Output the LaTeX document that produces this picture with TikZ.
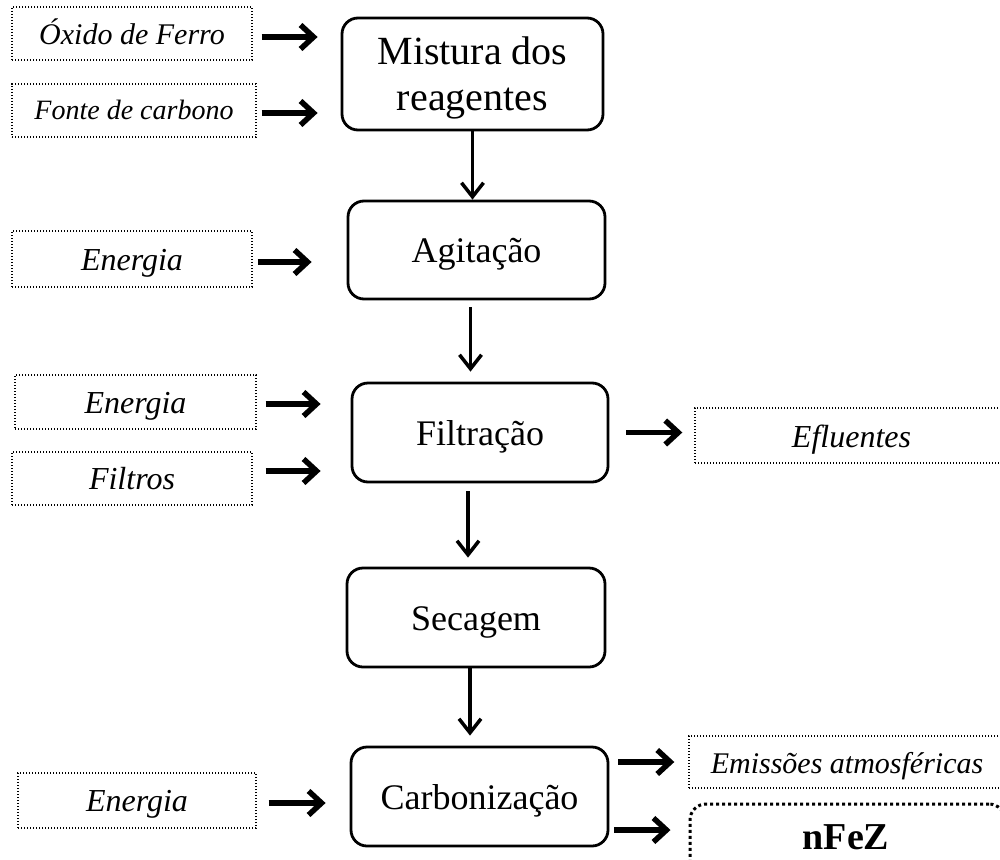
\documentclass[tikz,border=0pt]{standalone}
\usepackage{fontspec}
\setmainfont{Liberation Serif}
\usetikzlibrary{arrows.meta}
\begin{document}
\begin{tikzpicture}[x=1pt,y=-1pt,
  proc/.style={draw, line width=2.8pt, rounded corners=16pt, align=center, inner sep=0pt, text height=25pt, text depth=0pt, font=\fontsize{36}{45}\selectfont},
  inbox/.style={draw, line width=1.4pt, dash pattern=on 1.4pt off 1.6pt, inner sep=0pt, text height=22pt, text depth=0pt, font=\itshape\fontsize{32}{38}\selectfont},
  finalbox/.style={draw, line width=3pt, dash pattern=on 3pt off 3pt, rounded corners=16pt, inner sep=0pt, font=\bfseries\fontsize{38}{44}\selectfont},
  harrow/.style={line width=5.5pt, -{Straight Barb[length=13pt,width=24pt]}},
  varrow/.style={line width=3.5pt, -{Straight Barb[length=14pt,width=22pt]}}]
\useasboundingbox (0,0) rectangle (1000,859);
\clip (0,0) rectangle (1000,859);
\fill[white] (0,0) rectangle (1000,859);
% main process boxes
\node[draw, line width=2.8pt, rounded corners=16pt, inner sep=0pt, minimum width=261pt, minimum height=112pt,
  label={[font=\fontsize{40}{46}\selectfont, align=center, yshift=-4pt]center:{Mistura dos\\reagentes}}] (mix) at (472.5,74) {};
\node[proc, minimum width=257pt, minimum height=98pt] (agit) at (476.5,250) {Agitação};
\node[proc, minimum width=256pt, minimum height=99pt] (filt) at (480,432.5) {Filtração};
\node[proc, minimum width=258pt, minimum height=99pt] (sec) at (476,617.5) {Secagem};
\node[proc, minimum width=257pt, minimum height=99pt] (carb) at (479.5,796.5) {Carbonização};
% input boxes
\node[inbox, font=\itshape\fontsize{30}{36}\selectfont, text height=23pt, minimum width=240pt, minimum height=53pt] (ox) at (132,33.5) {Óxido de Ferro};
\node[inbox, font=\itshape\fontsize{28}{34}\selectfont, text height=18pt, minimum width=244pt, minimum height=53pt] (fon) at (134,110.5) {Fonte de carbono};
\node[inbox, minimum width=240pt, minimum height=56pt] (en1) at (132,259) {Energia};
\node[inbox, minimum width=241pt, minimum height=54pt] (en2) at (135.5,402) {Energia};
\node[inbox, minimum width=240pt, minimum height=53pt] (fil) at (132,478.5) {Filtros};
\node[inbox, minimum width=238pt, minimum height=55pt] (en3) at (137,800.5) {Energia};
% output boxes
\node[inbox, text height=23pt, minimum width=313pt, minimum height=55pt] (efl) at (851.5,435.5) {Efluentes};
\node[inbox, font=\itshape\fontsize{30}{36}\selectfont, minimum width=316pt, minimum height=52pt] (emi) at (847,762) {Emissões atmosféricas};
\node[finalbox, minimum width=315pt, minimum height=76pt,
  label={[font=\bfseries\fontsize{38}{44}\selectfont, inner sep=0pt, xshift=-1.5pt, yshift=5pt]center:nFeZ}] (nfez) at (847.5,842) {};
% vertical arrows
\draw[varrow] (mix.south) -- (mix.south |- agit.north);
\draw[varrow, shorten <=7pt, shorten >=10pt] ([xshift=-6pt]agit.south) -- ([xshift=-6pt]agit.south |- filt.north);
\draw[varrow, shorten <=8pt, shorten >=9pt] ([xshift=-12pt]filt.south) -- ([xshift=-12pt]filt.south |- sec.north);
\draw[varrow, shorten >=10pt] ([xshift=-6pt]sec.south) -- ([xshift=-6pt]sec.south |- carb.north);
% input arrows
\coordinate (a1) at ([yshift=-3.5pt]ox.east);
\coordinate (a2) at ([yshift=-2.5pt]fon.east);
\coordinate (a3) at ([yshift=-3pt]en1.east);
\coordinate (a4) at ([yshift=-2pt]en2.east);
\coordinate (a5) at ([yshift=7.5pt]fil.east);
\coordinate (a6) at ([yshift=-2.5pt]en3.east);
\draw[harrow, shorten <=9pt, shorten >=23pt] (a1) -- (a1 -| mix.west);
\draw[harrow, shorten <=5pt, shorten >=23pt] (a2) -- (a2 -| mix.west);
\draw[harrow, shorten <=5pt, shorten >=35pt] (a3) -- (a3 -| agit.west);
\draw[harrow, shorten <=9pt, shorten >=30pt] (a4) -- (a4 -| filt.west);
\draw[harrow, shorten <=13pt, shorten >=30pt] (a5) -- (a5 -| filt.west);
\draw[harrow, shorten <=12pt, shorten >=24pt] (a6) -- (a6 -| carb.west);
% output arrows
\draw[harrow, shorten <=17pt, shorten >=12pt] (filt.east) -- (filt.east -| efl.west);
\draw[harrow, shorten <=9pt, shorten >=14pt] (emi.west -| carb.east) -- (emi.west);
\coordinate (b1) at ([yshift=12pt]nfez.west);
\draw[harrow, shorten <=5pt, shorten >=18pt] (b1 -| carb.east) -- (b1);
\end{tikzpicture}
\end{document}
